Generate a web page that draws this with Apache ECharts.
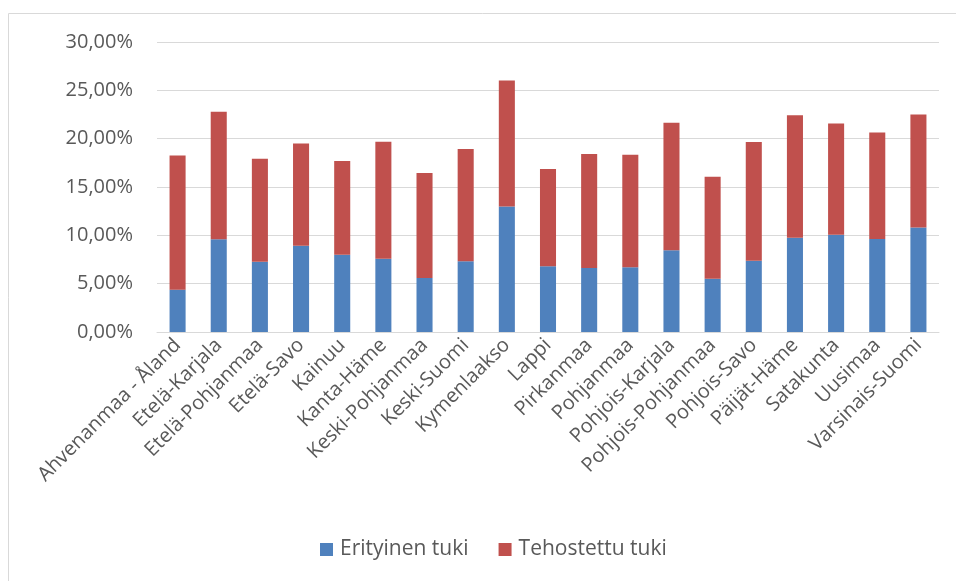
<!DOCTYPE html>
<html><head><meta charset="utf-8">
<script src="https://cdn.jsdelivr.net/npm/echarts@6/dist/echarts.min.js"></script>
<style>html,body{margin:0;padding:0;background:#fff}#c{width:956px;height:581px}</style>
</head><body><div id="c"></div>
<script>
const categories = ["Ahvenanmaa - Åland","Etelä-Karjala","Etelä-Pohjanmaa","Etelä-Savo","Kainuu","Kanta-Häme","Keski-Pohjanmaa","Keski-Suomi","Kymenlaakso","Lappi","Pirkanmaa","Pohjanmaa","Pohjois-Karjala","Pohjois-Pohjanmaa","Pohjois-Savo","Päijät-Häme","Satakunta","Uusimaa","Varsinais-Suomi"];
const erityinen = [4.38,9.59,7.28,8.93,8.00,7.59,5.59,7.31,12.97,6.79,6.62,6.69,8.45,5.52,7.38,9.76,10.07,9.62,10.80];
const tehostettu = [13.89,13.20,10.65,10.58,9.68,12.10,10.85,11.62,13.06,10.07,11.79,11.65,13.20,10.55,12.27,12.65,11.51,11.03,11.71];
const yTicks = [0,5,10,15,20,25,30];

const chart = echarts.init(document.getElementById('c'));
chart.setOption({
  animation:false,
  textStyle:{fontFamily:'"Open Sans", "Noto Sans", sans-serif'},
  graphic:[{type:'rect',shape:{x:8.5,y:13.5,width:1000,height:1000},style:{fill:'none',stroke:'#d9d9d9',lineWidth:1}}],
  grid:{left:157,right:17,top:42,bottom:249,containLabel:false},
  legend:{bottom:16,left:315,itemWidth:13,itemHeight:13,itemGap:30,icon:'rect',
    textStyle:{fontSize:21,color:'#595959',padding:[0,0,0,2]},data:['Erityinen tuki','Tehostettu tuki']},
  xAxis:{type:'category',data:categories,
    axisLine:{lineStyle:{color:'#d9d9d9',width:1}},axisTick:{show:false},
    axisLabel:{rotate:45,interval:0,fontSize:20,color:'#595959',margin:10}},
  yAxis:{type:'value',min:yTicks[0],max:yTicks[yTicks.length-1],interval:5,
    axisLine:{show:false},axisTick:{show:false},
    splitLine:{lineStyle:{color:'#d9d9d9',width:1}},
    axisLabel:{fontSize:20,color:'#595959',margin:24,formatter:v=>v.toFixed(2).replace('.',',')+'%'}},
  series:[
    {name:'Erityinen tuki',type:'bar',stack:'a',data:erityinen,barWidth:'39%',itemStyle:{color:'#4f81bd'}},
    {name:'Tehostettu tuki',type:'bar',stack:'a',data:tehostettu,barWidth:'39%',itemStyle:{color:'#c0504d'}}
  ]
});
</script></body></html>
